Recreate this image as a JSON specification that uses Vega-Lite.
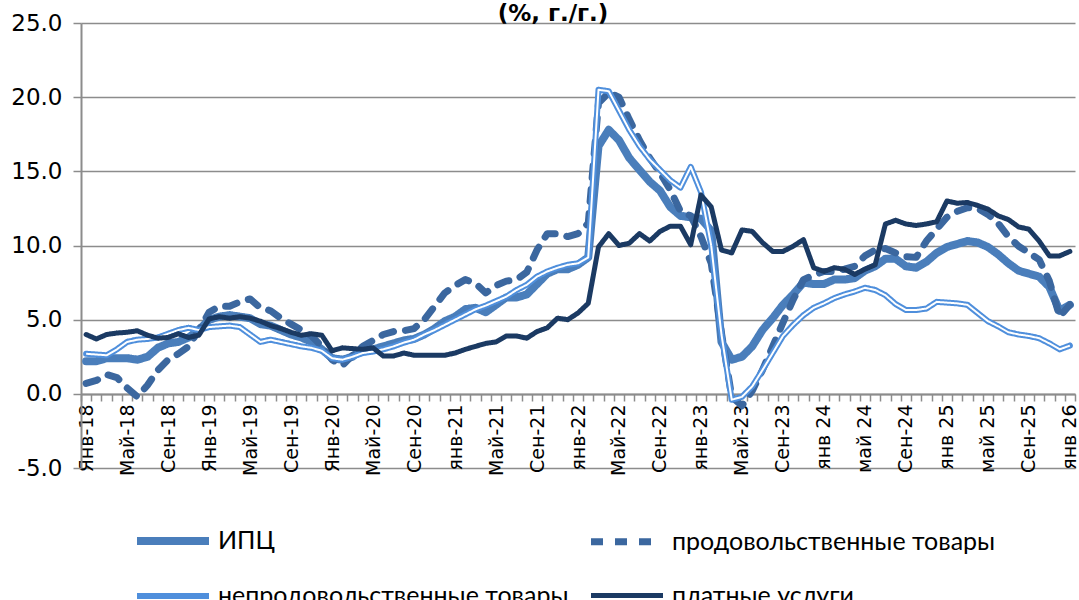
{
  "$schema": "https://vega.github.io/schema/vega-lite/v6.json",
  "width": 994,
  "height": 445,
  "autosize": {"type": "none"},
  "padding": {"left": 81, "top": 23, "right": 4, "bottom": 132},
  "background": "white",
  "title": {"text": "(%, г./г.)", "font": "DejaVu Sans", "fontSize": 23, "fontWeight": "bold", "color": "#000000", "anchor": "middle", "frame": "group", "dx": -25, "dy": 32, "offset": 0, "baseline": "alphabetic"},
  "config": {"view": {"stroke": null}, "font": "DejaVu Sans"},
  "data": {"values": [
    {"m": "Янв-18", "cpi": 2.2, "food": 0.7, "nonfood": 2.7, "serv": 4.0},
    {"m": "Фев-18", "cpi": 2.2, "food": 0.9, "nonfood": 2.65, "serv": 3.7},
    {"m": "Мар-18", "cpi": 2.4, "food": 1.3, "nonfood": 2.6, "serv": 4.0},
    {"m": "Апр-18", "cpi": 2.4, "food": 1.1, "nonfood": 3.0, "serv": 4.1},
    {"m": "Май-18", "cpi": 2.4, "food": 0.4, "nonfood": 3.5, "serv": 4.15},
    {"m": "Июн-18", "cpi": 2.3, "food": -0.2, "nonfood": 3.65, "serv": 4.25},
    {"m": "Июл-18", "cpi": 2.5, "food": 0.6, "nonfood": 3.7, "serv": 3.95},
    {"m": "Авг-18", "cpi": 3.1, "food": 1.6, "nonfood": 3.8, "serv": 3.75},
    {"m": "Сен-18", "cpi": 3.4, "food": 2.3, "nonfood": 4.05, "serv": 3.8},
    {"m": "Окт-18", "cpi": 3.5, "food": 2.7, "nonfood": 4.3, "serv": 4.05},
    {"m": "Ноя-18", "cpi": 3.8, "food": 3.2, "nonfood": 4.45, "serv": 3.8},
    {"m": "Дек-18", "cpi": 4.3, "food": 4.3, "nonfood": 4.3, "serv": 3.95},
    {"m": "Янв-19", "cpi": 5.0, "food": 5.5, "nonfood": 4.5, "serv": 5.05},
    {"m": "Фев-19", "cpi": 5.2, "food": 5.9, "nonfood": 4.55, "serv": 5.2},
    {"m": "Мар-19", "cpi": 5.3, "food": 5.9, "nonfood": 4.6, "serv": 5.1},
    {"m": "Апр-19", "cpi": 5.2, "food": 6.2, "nonfood": 4.5, "serv": 5.2},
    {"m": "Май-19", "cpi": 5.1, "food": 6.4, "nonfood": 4.0, "serv": 5.1},
    {"m": "Июн-19", "cpi": 4.7, "food": 5.8, "nonfood": 3.5, "serv": 4.9},
    {"m": "Июл-19", "cpi": 4.6, "food": 5.6, "nonfood": 3.65, "serv": 4.6},
    {"m": "Авг-19", "cpi": 4.3, "food": 5.1, "nonfood": 3.5, "serv": 4.4},
    {"m": "Сен-19", "cpi": 4.0, "food": 4.7, "nonfood": 3.35, "serv": 4.15},
    {"m": "Окт-19", "cpi": 3.8, "food": 4.3, "nonfood": 3.2, "serv": 3.95},
    {"m": "Ноя-19", "cpi": 3.5, "food": 3.9, "nonfood": 3.1, "serv": 4.05},
    {"m": "Дек-19", "cpi": 3.0, "food": 3.2, "nonfood": 2.9, "serv": 3.95},
    {"m": "Янв-20", "cpi": 2.4, "food": 2.3, "nonfood": 2.4, "serv": 2.9},
    {"m": "Фев-20", "cpi": 2.3, "food": 1.9, "nonfood": 2.3, "serv": 3.1},
    {"m": "Мар-20", "cpi": 2.5, "food": 2.6, "nonfood": 2.5, "serv": 3.05},
    {"m": "Апр-20", "cpi": 3.1, "food": 3.2, "nonfood": 2.75, "serv": 3.0},
    {"m": "Май-20", "cpi": 3.0, "food": 3.6, "nonfood": 2.85, "serv": 3.1},
    {"m": "Июн-20", "cpi": 3.2, "food": 4.0, "nonfood": 3.0, "serv": 2.55},
    {"m": "Июл-20", "cpi": 3.4, "food": 4.2, "nonfood": 3.2, "serv": 2.55},
    {"m": "Авг-20", "cpi": 3.6, "food": 4.25, "nonfood": 3.45, "serv": 2.75},
    {"m": "Сен-20", "cpi": 3.7, "food": 4.4, "nonfood": 3.65, "serv": 2.6},
    {"m": "Окт-20", "cpi": 4.0, "food": 5.0, "nonfood": 4.0, "serv": 2.6},
    {"m": "Ноя-20", "cpi": 4.4, "food": 5.9, "nonfood": 4.3, "serv": 2.6},
    {"m": "Дек-20", "cpi": 4.9, "food": 6.8, "nonfood": 4.65, "serv": 2.6},
    {"m": "янв-21", "cpi": 5.2, "food": 7.3, "nonfood": 5.0, "serv": 2.75},
    {"m": "Фев-21", "cpi": 5.7, "food": 7.7, "nonfood": 5.35, "serv": 3.0},
    {"m": "Мар-21", "cpi": 5.8, "food": 7.45, "nonfood": 5.7, "serv": 3.2},
    {"m": "Апр-21", "cpi": 5.5, "food": 6.8, "nonfood": 5.95, "serv": 3.4},
    {"m": "Май-21", "cpi": 6.0, "food": 7.3, "nonfood": 6.25, "serv": 3.5},
    {"m": "Июн-21", "cpi": 6.5, "food": 7.6, "nonfood": 6.55, "serv": 3.9},
    {"m": "Июл-21", "cpi": 6.5, "food": 7.7, "nonfood": 7.0, "serv": 3.9},
    {"m": "Авг-21", "cpi": 6.7, "food": 8.2, "nonfood": 7.35, "serv": 3.75},
    {"m": "Сен-21", "cpi": 7.4, "food": 9.7, "nonfood": 7.9, "serv": 4.2},
    {"m": "Окт-21", "cpi": 8.1, "food": 10.8, "nonfood": 8.25, "serv": 4.45},
    {"m": "Ноя-21", "cpi": 8.4, "food": 10.8, "nonfood": 8.5, "serv": 5.1},
    {"m": "Дек-21", "cpi": 8.4, "food": 10.6, "nonfood": 8.7, "serv": 5.0},
    {"m": "янв-22", "cpi": 8.7, "food": 10.8, "nonfood": 8.8, "serv": 5.45},
    {"m": "Фев-22", "cpi": 9.2, "food": 11.5, "nonfood": 9.2, "serv": 6.1},
    {"m": "Мар-22", "cpi": 16.7, "food": 19.6, "nonfood": 20.5, "serv": 9.9},
    {"m": "Апр-22", "cpi": 17.8, "food": 20.3, "nonfood": 20.4, "serv": 10.8},
    {"m": "Май-22", "cpi": 17.1, "food": 20.0, "nonfood": 19.1, "serv": 10.0},
    {"m": "Июн-22", "cpi": 15.9, "food": 18.5, "nonfood": 17.8, "serv": 10.15},
    {"m": "Июл-22", "cpi": 15.1, "food": 17.1, "nonfood": 16.7, "serv": 10.8},
    {"m": "Авг-22", "cpi": 14.3, "food": 15.9, "nonfood": 15.8, "serv": 10.3},
    {"m": "Сен-22", "cpi": 13.7, "food": 14.9, "nonfood": 15.1, "serv": 10.95},
    {"m": "Окт-22", "cpi": 12.6, "food": 13.75, "nonfood": 14.4, "serv": 11.3},
    {"m": "Ноя-22", "cpi": 12.0, "food": 12.3, "nonfood": 13.9, "serv": 11.3},
    {"m": "Дек-22", "cpi": 11.9, "food": 12.0, "nonfood": 15.3, "serv": 10.05},
    {"m": "янв-23", "cpi": 11.8, "food": 10.6, "nonfood": 13.6, "serv": 13.4},
    {"m": "Фев-23", "cpi": 11.0, "food": 8.8, "nonfood": 10.0, "serv": 12.6},
    {"m": "Мар-23", "cpi": 3.5, "food": 4.1, "nonfood": 4.0, "serv": 9.7},
    {"m": "Апр-23", "cpi": 2.3, "food": -0.2, "nonfood": -0.4, "serv": 9.5},
    {"m": "Май-23", "cpi": 2.5, "food": -0.8, "nonfood": -0.2, "serv": 11.05},
    {"m": "Июн-23", "cpi": 3.2, "food": 0.2, "nonfood": 0.5, "serv": 10.95},
    {"m": "Июл-23", "cpi": 4.3, "food": 1.6, "nonfood": 1.6, "serv": 10.2},
    {"m": "Авг-23", "cpi": 5.1, "food": 3.2, "nonfood": 2.75, "serv": 9.6},
    {"m": "Сен-23", "cpi": 6.0, "food": 4.8, "nonfood": 3.9, "serv": 9.6},
    {"m": "Окт-23", "cpi": 6.7, "food": 6.35, "nonfood": 4.65, "serv": 9.95},
    {"m": "Ноя-23", "cpi": 7.5, "food": 7.7, "nonfood": 5.3, "serv": 10.4},
    {"m": "Дек-23", "cpi": 7.4, "food": 8.0, "nonfood": 5.8, "serv": 8.5},
    {"m": "янв 24", "cpi": 7.4, "food": 8.25, "nonfood": 6.1, "serv": 8.25},
    {"m": "Фев-24", "cpi": 7.7, "food": 8.25, "nonfood": 6.45, "serv": 8.5},
    {"m": "Мар-24", "cpi": 7.7, "food": 8.4, "nonfood": 6.7, "serv": 8.4},
    {"m": "Апр-24", "cpi": 7.8, "food": 8.6, "nonfood": 6.9, "serv": 8.05},
    {"m": "май 24", "cpi": 8.3, "food": 9.3, "nonfood": 7.15, "serv": 8.4},
    {"m": "Июн-24", "cpi": 8.6, "food": 9.7, "nonfood": 7.0, "serv": 8.7},
    {"m": "Июл-24", "cpi": 9.1, "food": 9.8, "nonfood": 6.65, "serv": 11.45},
    {"m": "Авг-24", "cpi": 9.1, "food": 9.5, "nonfood": 6.05, "serv": 11.7},
    {"m": "Сен-24", "cpi": 8.6, "food": 9.25, "nonfood": 5.65, "serv": 11.45},
    {"m": "Окт-24", "cpi": 8.5, "food": 9.2, "nonfood": 5.65, "serv": 11.35},
    {"m": "Ноя-24", "cpi": 8.9, "food": 10.3, "nonfood": 5.75, "serv": 11.45},
    {"m": "Дек-24", "cpi": 9.5, "food": 11.1, "nonfood": 6.2, "serv": 11.6},
    {"m": "янв 25", "cpi": 9.9, "food": 11.9, "nonfood": 6.15, "serv": 13.0},
    {"m": "Фев-25", "cpi": 10.1, "food": 12.3, "nonfood": 6.1, "serv": 12.85},
    {"m": "Мар-25", "cpi": 10.3, "food": 12.55, "nonfood": 6.0, "serv": 12.9},
    {"m": "Апр-25", "cpi": 10.2, "food": 12.5, "nonfood": 5.45, "serv": 12.7},
    {"m": "май 25", "cpi": 9.9, "food": 12.1, "nonfood": 4.9, "serv": 12.45},
    {"m": "Июн-25", "cpi": 9.4, "food": 11.5, "nonfood": 4.55, "serv": 12.0},
    {"m": "Июл-25", "cpi": 8.8, "food": 10.6, "nonfood": 4.15, "serv": 11.75},
    {"m": "Авг-25", "cpi": 8.3, "food": 9.95, "nonfood": 4.0, "serv": 11.25},
    {"m": "Сен-25", "cpi": 8.1, "food": 9.5, "nonfood": 3.9, "serv": 11.1},
    {"m": "Окт-25", "cpi": 7.9, "food": 9.05, "nonfood": 3.75, "serv": 10.3},
    {"m": "Ноя-25", "cpi": 7.2, "food": 7.6, "nonfood": 3.4, "serv": 9.3},
    {"m": "Дек-25", "cpi": 5.6, "food": 5.2, "nonfood": 3.0, "serv": 9.3},
    {"m": "янв 26", "cpi": 6.0, "food": 6.0, "nonfood": 3.25, "serv": 9.6}
  ]},
  "transform": [{"fold": ["cpi", "food", "nonfood", "serv"], "as": ["series", "value"]}],
  "encoding": {
    "x": {
      "field": "m", "type": "ordinal", "sort": null, "bandPosition": 0.5,
      "scale": {"type": "band", "paddingInner": 0, "paddingOuter": 0},
      "axis": {
        "title": null, "offset": -74, "grid": false,
        "domainColor": "#8c8c8c", "domainWidth": 2,
        "tickColor": "#8c8c8c", "tickWidth": 1.5, "tickSize": 7, "tickBand": "extent",
        "labelAngle": -90, "labelAlign": "right", "labelBaseline": "middle", "labelPadding": 3,
        "labelFont": "DejaVu Sans", "labelFontSize": 19, "labelColor": "#000000", "labelOverlap": false,
        "labelExpr": "indexof(['Янв','янв','Май','май','Сен'], slice(datum.label, 0, 3)) >= 0 ? datum.label : ''"
      }
    },
    "y": {
      "field": "value", "type": "quantitative",
      "scale": {"domain": [-5, 25], "nice": false, "zero": false},
      "axis": {
        "title": null, "values": [-5, 0, 5, 10, 15, 20, 25], "grid": true,
        "gridColor": "#8c8c8c", "gridWidth": 1.5,
        "domainColor": "#8c8c8c", "domainWidth": 2,
        "tickColor": "#8c8c8c", "tickWidth": 1.5, "tickSize": 8,
        "labelFont": "DejaVu Sans", "labelFontSize": 23, "labelColor": "#000000", "labelPadding": 11,
        "labelExpr": "datum.value < 0 ? '-' + format(-datum.value, '.1f') : format(datum.value, '.1f')"
      }
    },
    "color": {
      "field": "series", "type": "nominal",
      "scale": {"domain": ["cpi", "food", "nonfood", "serv"], "range": ["#4a7ebb", "#3b679f", "#4f8fdc", "#1b3a63"]},
      "legend": {
        "orient": "none", "legendX": 52, "legendY": 478, "columns": 2, "direction": "horizontal", "title": null,
        "symbolType": "stroke", "symbolSize": 5184, "labelFont": "Lato", "labelFontSize": 25, "labelColor": "#000000",
        "labelLimit": 1000, "rowPadding": -40, "columnPadding": 8, "labelOffset": 5,
        "labelExpr": "datum.label === 'cpi' ? 'ИПЦ' : datum.label === 'food' ? 'продовольственные товары' : datum.label === 'nonfood' ? 'непродовольственные товары' : 'платные услуги'"
      }
    },
    "strokeDash": {
      "field": "series", "type": "nominal",
      "scale": {"domain": ["cpi", "food", "nonfood", "serv"], "range": [[1, 0], [12, 12], [1, 0], [1, 0]]},
      "legend": null
    },
    "strokeWidth": {
      "field": "series", "type": "nominal",
      "scale": {"domain": ["cpi", "food", "nonfood", "serv"], "range": [8, 5, 6, 6]},
      "legend": null
    }
  },
  "layer": [
    {"transform": [{"filter": "datum.series === 'cpi'"}], "mark": {"type": "line", "strokeJoin": "round", "strokeCap": "round"}},
    {"transform": [{"filter": "datum.series === 'food'"}], "mark": {"type": "line", "strokeJoin": "round", "strokeCap": "round"}},
    {"transform": [{"filter": "datum.series === 'nonfood'"}], "mark": {"type": "line", "strokeJoin": "round", "strokeCap": "round"}},
    {"transform": [{"filter": "datum.series === 'nonfood'"}], "mark": {"type": "line", "strokeJoin": "round"},
     "encoding": {"color": {"value": "white"}, "strokeWidth": {"value": 2}, "strokeDash": {"value": [1, 0]}}},
    {"transform": [{"filter": "datum.series === 'serv'"}], "mark": {"type": "line", "strokeJoin": "round", "strokeCap": "round"}}
  ]
}
